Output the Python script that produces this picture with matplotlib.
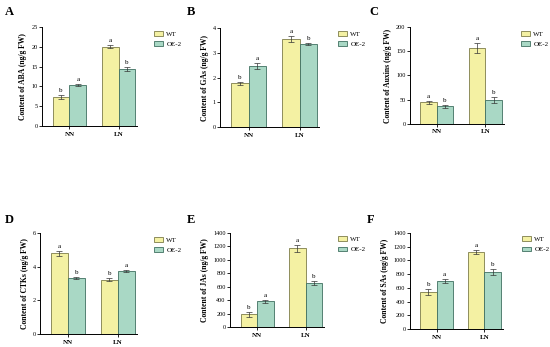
import matplotlib
matplotlib.use('Agg')
import matplotlib.pyplot as plt
import numpy as np

plt.rcParams['font.family'] = ['Liberation Serif', 'DejaVu Serif']

groups = ['NN', 'LN']
series = ['WT', 'OE-2']

# hormone values per panel: (WT NN, WT LN), (OE NN, OE LN)
aba_wt = [7.3, 20.0]
aba_oe = [10.4, 14.4]
aba_wt_err = [0.5, 0.4]
aba_oe_err = [0.2, 0.4]
aba_letters = [['b', 'a'], ['a', 'b']]

gas_wt = [1.76, 3.55]
gas_oe = [2.45, 3.35]
gas_wt_err = [0.08, 0.12]
gas_oe_err = [0.12, 0.05]
gas_letters = [['b', 'a'], ['a', 'b']]

aux_wt = [45, 157]
aux_oe = [36, 49]
aux_wt_err = [3, 10]
aux_oe_err = [4, 6]
aux_letters = [['a', 'a'], ['b', 'b']]

ctk_wt = [4.8, 3.22]
ctk_oe = [3.32, 3.75]
ctk_wt_err = [0.15, 0.08]
ctk_oe_err = [0.05, 0.05]
ctk_letters = [['a', 'b'], ['b', 'a']]

ja_wt = [190, 1170]
ja_oe = [380, 650]
ja_wt_err = [40, 50]
ja_oe_err = [25, 30]
ja_letters = [['b', 'a'], ['a', 'b']]

sa_wt = [540, 1120]
sa_oe = [700, 825]
sa_wt_err = [40, 35]
sa_oe_err = [25, 45]
sa_letters = [['b', 'a'], ['a', 'b']]

panels = [
    ('A', 'Content of ABA (ng/g FW)', aba_wt, aba_oe, aba_wt_err, aba_oe_err, aba_letters, 25, 5,
     [0.0764, 0.637, 0.173, 0.285], (9, 12), (151, 28)),
    ('B', 'Content of GAs (ng/g FW)', gas_wt, gas_oe, gas_wt_err, gas_oe_err, gas_letters, 4, 1,
     [0.400, 0.634, 0.180, 0.285], (191, 12), (335, 28)),
    ('C', 'Content of Auxins (ng/g FW)', aux_wt, aux_oe, aux_wt_err, aux_oe_err, aux_letters, 200, 50,
     [0.745, 0.643, 0.171, 0.279], (374, 12), (518, 28)),
    ('D', 'Content of CTKs (ng/g FW)', ctk_wt, ctk_oe, ctk_wt_err, ctk_oe_err, ctk_letters, 6, 2,
     [0.0727, 0.0375, 0.176, 0.291], (9, 220), (151, 234)),
    ('E', 'Content of JAs (ng/g FW)', ja_wt, ja_oe, ja_wt_err, ja_oe_err, ja_letters, 1400, 200,
     [0.418, 0.0576, 0.171, 0.271], (191, 220), (335, 233)),
    ('F', 'Content of SAs (ng/g FW)', sa_wt, sa_oe, sa_wt_err, sa_oe_err, sa_letters, 1400, 200,
     [0.745, 0.0519, 0.169, 0.277], (371, 220), (519, 233)),
]

W, H = 550, 347
fig = plt.figure(figsize=(5.5, 3.47), dpi=100)

x = np.arange(len(groups))
w = 0.34
colors = ['#f4f1a3', '#a9d8c5']
edges = ['#7d7d4a', '#3f6f60']

for label, ylab, wt, oe, wt_e, oe_e, letters, ymax, step, pos, lpos, legpos in panels:
    ax = fig.add_axes(pos)
    handles = []
    for i, (vals, errs) in enumerate([(wt, wt_e), (oe, oe_e)]):
        xs = x + (i - 0.5) * w
        b = ax.bar(xs, vals, w, color=colors[i], edgecolor=edges[i], linewidth=0.6,
                   yerr=errs, capsize=2, error_kw=dict(elinewidth=0.5, capthick=0.5, ecolor='#333333'),
                   label=series[i])
        handles.append(b)
        for xx, v, e, t in zip(xs, vals, errs, letters[i]):
            ax.text(xx, v + e + ymax * 0.02, t, ha='center', va='bottom', fontsize=5)
    ax.set_xlim(-0.56, 1.38)
    ax.set_ylim(0, ymax)
    ax.set_yticks(np.arange(0, ymax + step / 2, step))
    ax.set_xticks(x)
    ax.set_xticklabels(groups, fontsize=5, fontweight='bold')
    ax.tick_params(axis='y', labelsize=4.5, length=2, width=0.6, pad=1)
    ax.tick_params(axis='x', length=2, width=0.6, pad=2)
    for s in ['top', 'right']:
        ax.spines[s].set_visible(False)
    for s in ['left', 'bottom']:
        ax.spines[s].set_linewidth(0.7)
    ax.set_ylabel(ylab, fontsize=5.5, fontweight='bold', labelpad=3)
    fig.text(lpos[0] / W, 1 - lpos[1] / H, label, fontsize=9, fontweight='bold', ha='center', va='center')
    ax.legend(handles=handles, loc='upper left', bbox_to_anchor=(legpos[0] / W, 1 - legpos[1] / H),
              bbox_transform=fig.transFigure, frameon=False, fontsize=5,
              handlelength=1.2, handleheight=0.7, labelspacing=0.6, borderpad=0, handletextpad=0.5)

fig.savefig('out.png', dpi=100)
